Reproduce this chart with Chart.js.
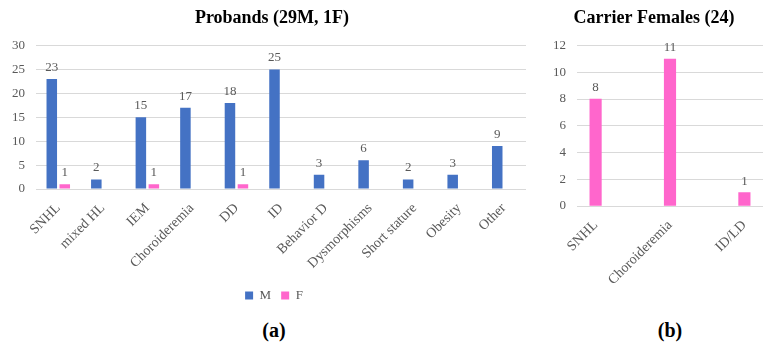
<!DOCTYPE html>
<html>
<head>
<meta charset="utf-8">
<script src="https://cdn.jsdelivr.net/npm/chart.js@4/dist/chart.umd.min.js"></script>
<style>
  body { margin: 0; background: #fff; }
  #wrap { position: relative; width: 777px; height: 347px; }
  canvas { position: absolute; top: 0; }
  .tag { position: absolute; top: 319px; font: bold 20px "Liberation Serif", serif; color: #000; transform: translateX(-50%); }
</style>
</head>
<body>
<div id="wrap">
  <canvas id="probands" width="545" height="312" style="left:0"></canvas>
  <canvas id="carriers" width="232" height="312" style="left:545px"></canvas>
  <div class="tag" style="left:274px">(a)</div>
  <div class="tag" style="left:670px">(b)</div>
</div>
<script>
"use strict";

var probandCats = ['SNHL', 'mixed HL', 'IEM', 'Choroideremia', 'DD', 'ID', 'Behavior D', 'Dysmorphisms', 'Short stature', 'Obesity', 'Other'];
var maleVals = [23, 2, 15, 17, 18, 25, 3, 6, 2, 3, 9];
var femaleVals = [1, null, 1, null, 1, null, null, null, null, null, null];

var carrierCats = ['SNHL', 'Choroideremia', 'ID/LD'];
var carrierVals = [8, 11, 1];

var blue = '#4472C4';
var pink = '#FF66CC';
var grey = '#595959';
var serif = '"Liberation Serif", serif';

// numbers above the bars
var valueLabels = {
    id: 'valueLabels',
    afterDatasetsDraw: function (chart) {
        var ctx = chart.ctx;
        ctx.save();
        ctx.font = '13px ' + serif;
        ctx.fillStyle = grey;
        ctx.textAlign = 'center';
        ctx.textBaseline = 'bottom';
        chart.data.datasets.forEach(function (ds, i) {
            chart.getDatasetMeta(i).data.forEach(function (bar, j) {
                var v = ds.data[j];
                if (v == null) return;
                if (typeof v === 'object') v = v.y;
                ctx.fillText(v, bar.x, bar.y - 5);
            });
        });
        ctx.restore();
    }
};

// nudge legend and title to the right, like the original
var nudge = {
    id: 'nudge',
    afterLayout: function (chart) {
        if (chart.legend) { chart.legend.left += 11; chart.legend.right += 11; }
        if (chart.titleBlock) { chart.titleBlock.left += 9; chart.titleBlock.right += 9; }
    }
};

new Chart(document.querySelector('#probands').getContext('2d'), {
    type: 'bar',
    data: {
        labels: probandCats,
        datasets: [{
            label: 'M',
            data: maleVals,
            backgroundColor: blue,
            categoryPercentage: 0.583,
            barPercentage: 0.81
        }, {
            label: 'F',
            data: femaleVals,
            backgroundColor: pink,
            categoryPercentage: 0.583,
            barPercentage: 0.81
        }]
    },
    options: {
        responsive: false,
        animation: false,
        layout: { padding: { left: 0, right: 19, bottom: 0 } },
        plugins: {
            title: {
                display: true,
                text: 'Probands (29M, 1F)',
                color: '#000',
                font: { family: serif, size: 18, weight: 'bold' },
                padding: { top: 8, bottom: 16 }
            },
            legend: {
                position: 'bottom',
                labels: {
                    boxWidth: 8,
                    boxHeight: 8,
                    color: grey,
                    font: { family: serif, size: 13 }
                }
            },
            tooltip: { enabled: false }
        },
        scales: {
            x: {
                grid: { display: false },
                border: { display: false },
                ticks: {
                    color: grey,
                    font: { family: serif, size: 14 },
                    minRotation: 45,
                    maxRotation: 45,
                    autoSkip: false
                },
                afterFit: function (s) { s.height = 90; }
            },
            y: {
                min: 0,
                max: 30,
                ticks: {
                    stepSize: 5,
                    color: grey,
                    padding: 11,
                    font: { family: serif, size: 13 }
                },
                grid: { color: '#d9d9d9', drawTicks: false },
                border: { display: false },
                afterFit: function (s) { s.width = 36; }
            }
        }
    },
    plugins: [valueLabels, nudge]
});

new Chart(document.querySelector('#carriers').getContext('2d'), {
    type: 'bar',
    data: {
        datasets: [{
            label: 'F',
            data: carrierVals.map(function (v, i) { return { x: i, y: v }; }),
            backgroundColor: pink,
            barThickness: 11.5
        }]
    },
    options: {
        responsive: false,
        animation: false,
        layout: { padding: { left: 0, right: 14, bottom: 0 } },
        plugins: {
            title: {
                display: true,
                text: 'Carrier Females (24)',
                color: '#000',
                font: { family: serif, size: 18, weight: 'bold' },
                padding: { top: 8, bottom: 16 }
            },
            legend: { display: false },
            tooltip: { enabled: false }
        },
        scales: {
            x: {
                type: 'linear',
                min: -0.25,
                max: 2.25,
                offset: false,
                grid: { display: false },
                border: { display: false },
                afterBuildTicks: function (s) {
                    s.ticks = carrierCats.map(function (c, i) { return { value: i }; });
                },
                ticks: {
                    color: grey,
                    font: { family: serif, size: 14 },
                    minRotation: 45,
                    maxRotation: 45,
                    autoSkip: false,
                    callback: function (v) { return carrierCats[v]; }
                },
                afterFit: function (s) { s.height = 106; }
            },
            y: {
                min: 0,
                max: 12,
                ticks: {
                    stepSize: 2,
                    color: grey,
                    padding: 11,
                    font: { family: serif, size: 13 }
                },
                grid: { color: '#d9d9d9', drawTicks: false },
                border: { display: false },
                afterFit: function (s) { s.width = 32; }
            }
        }
    },
    plugins: [valueLabels]
});
</script>
</body>
</html>
